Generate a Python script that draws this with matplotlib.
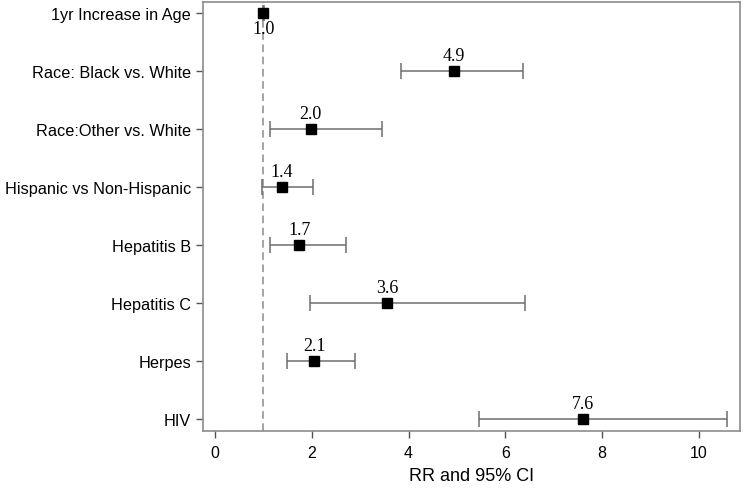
import matplotlib
matplotlib.use("Agg")
import matplotlib.pyplot as plt

labels = ["1yr Increase in Age", "Race: Black vs. White", "Race:Other vs. White",
          "Hispanic vs Non-Hispanic", "Hepatitis B", "Hepatitis C", "Herpes", "HIV"]
rr = [1.0, 4.94, 1.98, 1.38, 1.74, 3.56, 2.05, 7.6]
lo = [0.99, 3.84, 1.14, 0.97, 1.13, 1.97, 1.48, 5.46]
hi = [1.01, 6.36, 3.45, 2.03, 2.71, 6.41, 2.89, 10.58]
rr_text = ["1.0", "4.9", "2.0", "1.4", "1.7", "3.6", "2.1", "7.6"]

fig = plt.figure(figsize=(7.45, 4.89), dpi=100)
ax = fig.add_axes([0.2725, 0.1166, 0.7205, 0.8774])

ypos = list(range(len(labels)))
xerr = [[r - l for r, l in zip(rr, lo)], [h - r for r, h in zip(rr, hi)]]
ax.errorbar(rr, ypos, xerr=xerr, fmt="none", ecolor="#6e6e6e", elinewidth=1.1,
            capsize=6, capthick=1.1)
ax.plot(rr, ypos, "s", color="black", markersize=6.5, zorder=3)
ax.axvline(1.0, color="#8c8c8c", linestyle=(0, (5, 3)), linewidth=1.1, zorder=1)

# value labels: above the marker, except the first row (below)
for i, (x, t) in enumerate(zip(rr, rr_text)):
    if i == 0:
        ax.annotate(t, (x, i), xytext=(0, -5), textcoords="offset points",
                    ha="center", va="top", fontsize=13, family="Liberation Serif")
    else:
        ax.annotate(t, (x, i), xytext=(0, 5), textcoords="offset points",
                    ha="center", va="bottom", fontsize=13, family="Liberation Serif")

ax.set_yticks(ypos)
ax.set_yticklabels(labels, fontsize=11.7, family="Liberation Sans")
ax.set_ylim(7.21, -0.19)
ax.set_xlim(-0.25, 10.85)
ax.set_xticks([0, 2, 4, 6, 8, 10])
ax.set_xticklabels(["0", "2", "4", "6", "8", "10"], fontsize=11.5, family="Liberation Sans")
ax.set_xlabel("RR and 95% CI", fontsize=13, family="Liberation Sans", labelpad=5)

for s in ax.spines.values():
    s.set_color("#8c8c8c")
    s.set_linewidth(1.2)
ax.tick_params(color="#555555", length=5, width=1)
ax.tick_params(axis="x", pad=5)

fig.savefig("out.png", dpi=100)
